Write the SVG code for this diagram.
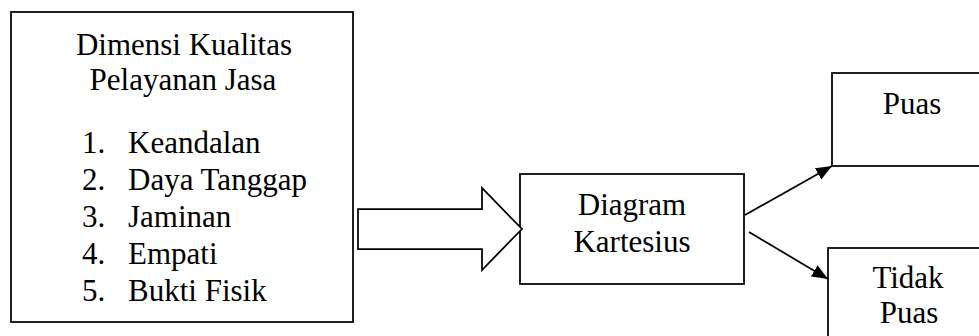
<svg xmlns="http://www.w3.org/2000/svg" width="979" height="336" viewBox="0 0 979 336">
  <style>
    .box { fill: #ffffff; stroke: #000000; stroke-width: 1.75; }
    .lbl { font-family: "Liberation Serif", "Times New Roman", serif; font-size: 31px; fill: #000000; }
    .mid { text-anchor: middle; }
    .edge { stroke: #000000; stroke-width: 1.75; fill: none; marker-end: url(#head); }
  </style>
  <defs>
    <marker id="head" markerUnits="userSpaceOnUse" markerWidth="18" markerHeight="14" refX="16" refY="6.5" orient="auto">
      <path d="M0,0 L16,6.5 L0,13 Z" fill="#000000"/>
    </marker>
  </defs>
  <rect width="979" height="336" fill="#ffffff"/>

  <g id="dimensi">
    <rect class="box" x="11" y="12" width="342" height="310"/>
    <text class="lbl mid" x="184" y="55">Dimensi Kualitas</text>
    <text class="lbl mid" x="183" y="90">Pelayanan Jasa</text>
    <text class="lbl" x="82" y="153">1.</text>
    <text class="lbl" x="128" y="153">Keandalan</text>
    <text class="lbl" x="82" y="190">2.</text>
    <text class="lbl" x="128" y="190">Daya Tanggap</text>
    <text class="lbl" x="82" y="227">3.</text>
    <text class="lbl" x="128" y="227">Jaminan</text>
    <text class="lbl" x="82" y="264">4.</text>
    <text class="lbl" x="128" y="264">Empati</text>
    <text class="lbl" x="82" y="301">5.</text>
    <text class="lbl" x="128" y="301">Bukti Fisik</text>
  </g>

  <g id="kartesius">
    <rect class="box" x="520" y="174" width="224" height="110"/>
    <text class="lbl mid" x="632" y="215">Diagram</text>
    <text class="lbl mid" x="632" y="252">Kartesius</text>
  </g>

  <g id="puas">
    <rect class="box" x="832" y="73" width="170" height="93"/>
    <text class="lbl mid" x="912" y="114">Puas</text>
  </g>

  <g id="tidak-puas">
    <rect class="box" x="828" y="248" width="170" height="110"/>
    <text class="lbl mid" x="908" y="288">Tidak</text>
    <text class="lbl mid" x="909" y="323">Puas</text>
  </g>

  <g id="connectors">
    <polygon class="box" points="358,209 482,209 482,188 522,229 482,270 482,249 358,249"/>
    <line class="edge" x1="745" y1="215" x2="832" y2="166"/>
    <line class="edge" x1="749" y1="232" x2="828" y2="279"/>
  </g>
</svg>
